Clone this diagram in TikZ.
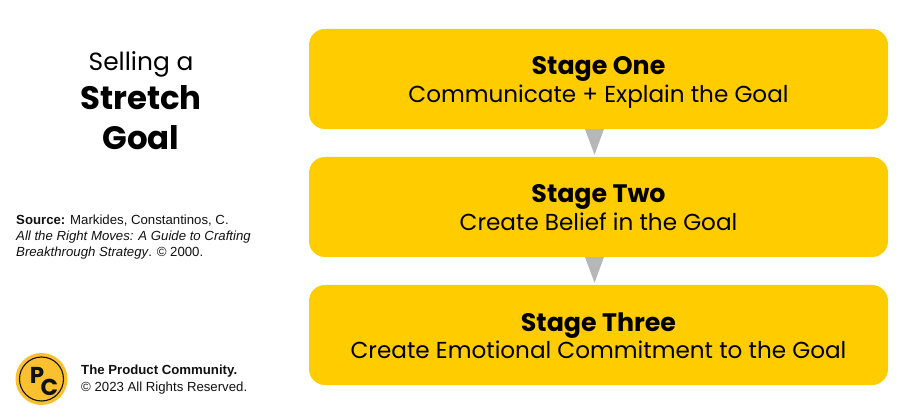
\documentclass[tikz,border=0pt]{standalone}
\usepackage{fontspec}
\setmainfont{Liberation Sans}
\newfontfamily\lex{Poppins}
\usetikzlibrary{calc}
\definecolor{stagey}{HTML}{FFCC00}
\definecolor{arrowg}{HTML}{B7B7B7}
\definecolor{logoy}{HTML}{FBC02D}
\definecolor{ink}{HTML}{111111}
\newcommand{\stagehead}{\fontsize{25.3pt}{27.5pt}\selectfont\bfseries}
\tikzset{
 stagebox/.style={fill=stagey,rounded corners=16pt,minimum width=579pt,minimum height=100pt,inner sep=0pt},
 stagelabel/.style={inner sep=0pt,align=center,text=black,font=\lex\fontsize{23.1pt}{27.5pt}\selectfont},
 srctext/.style={anchor=west,align=left,inner sep=0pt,font=\fontsize{13.2pt}{16.4pt}\selectfont,text=ink},
 titletext/.style={inner sep=0pt,text=black,anchor=center},
 flow/.style={fill=arrowg,draw=none},
}
\begin{document}
\begin{tikzpicture}[x=1pt,y=-1pt]
\useasboundingbox (0,0) rectangle (912,419);
\node[stagebox] (one) at (598.5,79) {};
\node[stagebox] (two) at (598.5,207) {};
\node[stagebox] (three) at (598.5,335) {};
\node[stagelabel] (onet) at ($(one)+(0,3.5)$) {\stagehead Stage One\\Communicate + Explain the Goal};
\node[stagelabel] (twot) at ($(two)+(0,3.5)$) {\stagehead Stage Two\\\vphantom{p}Create Belief in the Goal};
\node[stagelabel] (threet) at ($(three)+(0,3.5)$) {\stagehead Stage Three\\\vphantom{p}Create Emotional Commitment to the Goal};
\fill[flow] ($(one.south)+(-13.5,0)$) -- ($(one.south)+(5.5,0)$) -- ($(two.north)+(-4,-2)$) -- cycle;
\fill[flow] ($(two.south)+(-13.5,0)$) -- ($(two.south)+(5.5,0)$) -- ($(three.north)+(-4,-2)$) -- cycle;
\node[titletext] (t1) at (141,64.5) {\lex\fontsize{24.9pt}{28pt}\selectfont Selling a};
\node[titletext] (t2) at (141,98) {\lex\fontsize{32.4pt}{32pt}\selectfont\textbf{Stretch}};
\node[titletext] (t3) at (141,138) {\lex\fontsize{32.4pt}{32pt}\selectfont\textbf{Goal}};
\node[srctext] (src) at (16,237) {\textbf{Source:} Markides, Constantinos, C.\\\textit{All the Right Moves: A Guide to Crafting}\\\textit{Breakthrough Strategy}. © 2000.};
\node[srctext,font=\fontsize{13.2pt}{17pt}\selectfont] (co) at (81,380) {\textbf{The Product Community.}\\© 2023 All Rights Reserved.};
\node[circle,fill=logoy,minimum size=52pt,inner sep=0pt] (logo) at (41.5,379) {};
\node[circle,draw=ink,line width=1.1pt,minimum size=44pt,inner sep=0pt] (ring) at (logo) {};
\node[inner sep=0pt,text=ink] (p) at (37,375.5) {\lex\fontsize{23pt}{23pt}\selectfont\textbf{P}};
\node[inner sep=0pt,text=ink] (c) at (49.5,387) {\lex\fontsize{23pt}{23pt}\selectfont\textbf{C}};
\end{tikzpicture}
\end{document}
